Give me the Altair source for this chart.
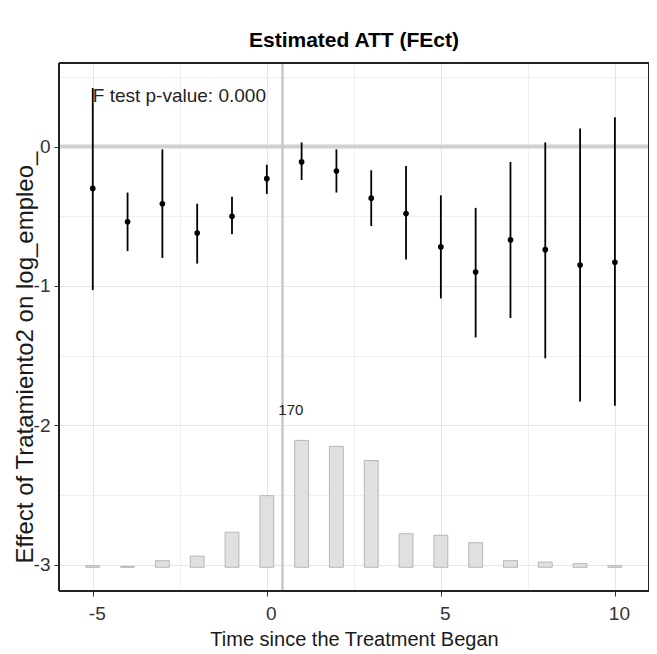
import altair as alt
import pandas as pd

# ---- data ----
periods = list(range(-5, 11))
att = [-0.30, -0.54, -0.41, -0.62, -0.50, -0.23, -0.11, -0.175, -0.37, -0.48,
       -0.72, -0.90, -0.67, -0.74, -0.85, -0.83]
ci_lower = [-1.03, -0.75, -0.80, -0.84, -0.63, -0.34, -0.24, -0.33, -0.57, -0.81,
            -1.09, -1.37, -1.23, -1.52, -1.83, -1.86]
ci_upper = [0.42, -0.33, -0.02, -0.41, -0.36, -0.13, 0.03, -0.02, -0.17, -0.14,
            -0.35, -0.44, -0.11, 0.03, 0.13, 0.21]
counts = [2, 1, 9, 15, 47, 96, 170, 162, 143, 45, 43, 33, 9, 7, 5, 2]

zero_line = [0]
treat_line = [0.45]
ftest_text = ["F test p-value: 0.000"]
ftest_x = [-5]
ftest_y = [0.36]
count_label_text = ["170"]
count_label_x = [0.69]
count_label_y = [-1.89]

x_ticks = [-5, -2.5, 0, 2.5, 5, 7.5, 10]
y_ticks = [-3, -2.5, -2, -1.5, -1, -0.5, 0, 0.5]
x_domain = [-5.97, 10.98]
y_domain = [-3.19, 0.60]

df = pd.DataFrame({"period": periods, "att": att, "lo": ci_lower,
                   "hi": ci_upper, "count": counts})

FONT = "Liberation Sans"

x_axis = alt.Axis(
    values=x_ticks,
    labelExpr="datum.value % 5 == 0 ? datum.value + '' : ''",
    tickOpacity={"condition": {"test": "datum.value % 5 == 0", "value": 1}, "value": 0},
    gridWidth={"condition": {"test": "datum.value % 5 == 0", "value": 1}, "value": 0.6},
    gridColor="#e6e6e6",
    domain=False, tickColor="#333333", tickSize=5, tickWidth=1,
    labelFont=FONT, labelFontSize=19, labelColor="#333333",
    labelPadding=8, labelOffset=4,
    titleFont=FONT, titleFontSize=20, titleFontWeight="normal", titleColor="#1a1a1a",
    titleY=48, titleBaseline="middle",
)
y_axis = alt.Axis(
    values=y_ticks,
    labelExpr="datum.value % 1 == 0 ? datum.value + '' : ''",
    tickOpacity={"condition": {"test": "datum.value % 1 == 0", "value": 1}, "value": 0},
    gridWidth={"condition": {"test": "datum.value % 1 == 0", "value": 1}, "value": 0.6},
    gridColor="#e6e6e6",
    domain=False, tickColor="#333333", tickSize=5, tickWidth=1,
    labelFont=FONT, labelFontSize=19, labelColor="#333333", labelPadding=4,
    titleFont=FONT, titleFontSize=24, titleFontWeight="normal", titleColor="#1a1a1a",
    titleX=-34, titleY=294, titleBaseline="middle", titleAlign="center",
)

xs = alt.Scale(domain=x_domain, nice=False, zero=False)
ys = alt.Scale(domain=y_domain, nice=False, zero=False)
XT = "Time since the Treatment Began"
YT = "Effect of Tratamiento2 on log_empleo_"


def X(field):
    return alt.X(field, type="quantitative", scale=xs, axis=x_axis, title=XT)


def Y(field):
    return alt.Y(field, type="quantitative", scale=ys, axis=y_axis, title=YT)


hline = alt.Chart(pd.DataFrame({"y": zero_line})).mark_rule(
    color="#d0d0d0", strokeWidth=4).encode(y=Y("y"))
vline = alt.Chart(pd.DataFrame({"x": treat_line})).mark_rule(
    color="#c8c8c8", strokeWidth=2.5).encode(x=X("x"))

bars = alt.Chart(df).transform_calculate(
    x0="datum.period - 0.2",
    x1="datum.period + 0.2",
    ybase="-3.02",
    ytop="-3.02 + datum.count / 170 * 0.911",
).mark_rect(fill="#e0e0e0", stroke="#a9a9a9", strokeWidth=0.8).encode(
    x=X("x0"), x2="x1:Q", y=Y("ybase"), y2="ytop:Q")

errs = alt.Chart(df).mark_rule(color="black", strokeWidth=1.8).encode(
    x=X("period"), y=Y("lo"), y2="hi:Q")

pts = alt.Chart(df).mark_point(filled=True, color="black", size=32, opacity=1).encode(
    x=X("period"), y=Y("att"))

ftxt = alt.Chart(pd.DataFrame({"x": ftest_x, "y": ftest_y, "t": ftest_text})).mark_text(
    align="left", baseline="middle", font=FONT, fontSize=19, color="#222222"
).encode(x=X("x"), y=Y("y"), text="t:N")

ctxt = alt.Chart(pd.DataFrame({"x": count_label_x, "y": count_label_y,
                               "t": count_label_text})).mark_text(
    align="center", baseline="middle", font=FONT, fontSize=15, color="#222222"
).encode(x=X("x"), y=Y("y"), text="t:N")

# panel border (theme_bw frame) along the scale domain limits
frame_v = alt.Chart(pd.DataFrame({"x": x_domain})).mark_rule(
    color="#222222", strokeWidth=2).encode(x=X("x"))
frame_h = alt.Chart(pd.DataFrame({"y": y_domain})).mark_rule(
    color="#222222", strokeWidth=2).encode(y=Y("y"))

chart = alt.layer(hline, vline, bars, errs, pts, ftxt, ctxt, frame_v, frame_h).properties(
    width=590, height=528,
    title=alt.Title("Estimated ATT (FEct)", font=FONT, fontSize=21, fontWeight="bold",
                    color="black", anchor="middle", frame="group",
                    baseline="alphabetic", offset=15, dy=21),
    autosize=alt.AutoSizeParams(type="none"),
    padding={"left": 51, "top": 55, "right": 0, "bottom": 63},
).configure(background="white")

chart.save("out.html", embed_options={"renderer": "svg", "actions": False})
